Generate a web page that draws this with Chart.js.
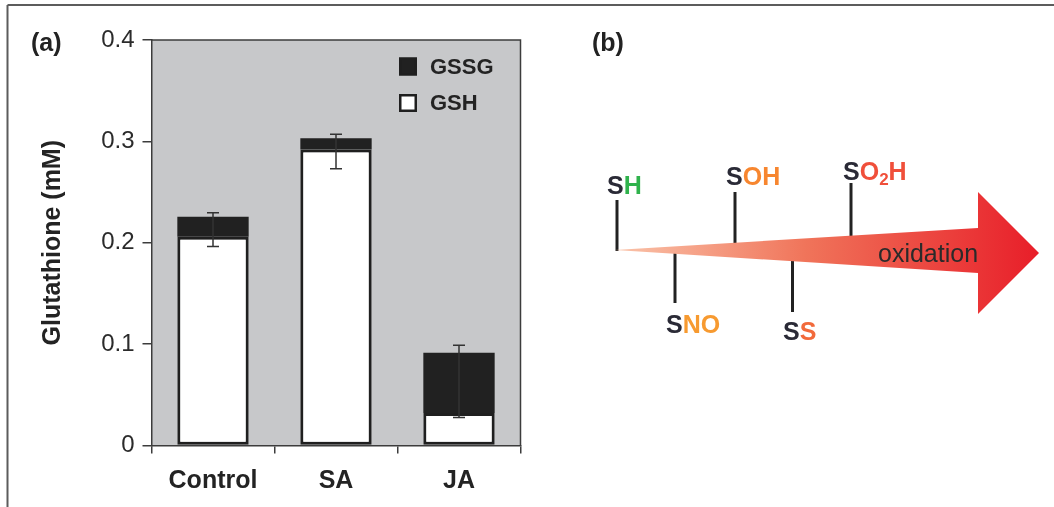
<!DOCTYPE html>
<html>
<head>
<meta charset="utf-8">
<script src="https://cdn.jsdelivr.net/npm/chart.js@4.4.1/dist/chart.umd.min.js"></script>
<style>
  html, body { margin: 0; padding: 0; background: #fff; overflow: hidden; }
  #wrap { position: relative; width: 1054px; height: 507px; }
  #chart { position: absolute; left: 0; top: 0; }
  #overlay { position: absolute; left: 0; top: 0; pointer-events: none; }
  #overlay text { font-family: "Liberation Sans", Arial, Helvetica, sans-serif; }
</style>
</head>
<body>
<div id="wrap">
  <canvas id="chart" width="540" height="507"></canvas>
  <svg id="overlay" width="1054" height="507" xmlns="http://www.w3.org/2000/svg">
    <defs>
      <linearGradient id="oxGrad" gradientUnits="userSpaceOnUse" x1="615" y1="0" x2="1039" y2="0">
        <stop offset="0" stop-color="#fac4aa"/>
        <stop offset="0.45" stop-color="#f0745a"/>
        <stop offset="1" stop-color="#e81e29"/>
      </linearGradient>
    </defs>
    <!-- frame -->
    <line x1="7.5" y1="5" x2="1054" y2="5" stroke="#5c5c5c" stroke-width="2"/>
    <line x1="7.5" y1="5" x2="7.5" y2="507" stroke="#5c5c5c" stroke-width="2"/>

    <text x="31" y="51" font-size="25" font-weight="bold" fill="#222">(a)</text>
    <text x="592" y="51" font-size="25" font-weight="bold" fill="#222">(b)</text>

    <!-- panel (b): stems -->
    <g stroke="#222" stroke-width="3">
      <line x1="617" y1="200" x2="617" y2="251"/>
      <line x1="735" y1="192" x2="735" y2="244"/>
      <line x1="851" y1="183" x2="851" y2="237"/>
      <line x1="675" y1="252" x2="675" y2="303"/>
      <line x1="792.5" y1="260" x2="792.5" y2="312"/>
    </g>
    <polygon points="615,250 978,228 978,192 1039,253 978,314 978,273" fill="url(#oxGrad)"/>

    <g font-size="25" font-weight="bold">
      <text x="607" y="194"><tspan fill="#2a2a36">S</tspan><tspan fill="#2fb24c">H</tspan></text>
      <text x="726" y="185"><tspan fill="#2a2a36">S</tspan><tspan fill="#f7862f">OH</tspan></text>
      <text x="843" y="180"><tspan fill="#2a2a36">S</tspan><tspan fill="#f04f3a">O</tspan><tspan fill="#f04f3a" font-size="17" dy="5">2</tspan><tspan fill="#f04f3a" dy="-5">H</tspan></text>
      <text x="666" y="333"><tspan fill="#2a2a36">S</tspan><tspan fill="#f79a30">NO</tspan></text>
      <text x="783" y="340"><tspan fill="#2a2a36">S</tspan><tspan fill="#f26a3b">S</tspan></text>
    </g>
    <text x="878" y="262" font-size="25" fill="#2a2a2a">oxidation</text>
  </svg>
</div>
<script>
const categories  = ['Control', 'SA', 'JA'];
const gshValues   = [0.206, 0.292, 0.032];
const gssgValues  = [0.0196, 0.011, 0.0595];
const errUpper    = [0.004, 0.004, 0.0075];   // above total (GSSG + GSH)
const errLower    = [0.0096, 0.019, 0.0045];  // below GSH top
const yTickLabels = ['0', '0.1', '0.2', '0.3', '0.4'];

const FONT  = '"Liberation Sans", Arial, Helvetica, sans-serif';
const INK   = '#232323';
const AXIS  = '#3c3c3c';

// ── plugins ─────────────────────────────────────────────────────────────────

const plotBg = {
  id: 'plotBg',
  beforeDraw(chart) {
    const { ctx, chartArea: a } = chart;
    ctx.save();
    ctx.fillStyle = '#c7c8ca';
    ctx.fillRect(a.left, a.top, a.right - a.left, a.bottom - a.top);
    ctx.restore();
  },
  afterDraw(chart) {
    const { ctx, chartArea: a } = chart;
    ctx.save();
    ctx.strokeStyle = AXIS;
    ctx.lineWidth = 1.5;
    ctx.beginPath();
    ctx.moveTo(a.left, a.top);
    ctx.lineTo(a.right, a.top);
    ctx.lineTo(a.right, a.bottom);
    ctx.stroke();
    ctx.restore();
  }
};

const errorBars = {
  id: 'errorBars',
  afterDatasetsDraw(chart) {
    const { ctx, scales: { y } } = chart;
    const meta = chart.getDatasetMeta(1);
    ctx.save();
    ctx.strokeStyle = '#333';
    ctx.lineWidth = 1.5;
    meta.data.forEach((bar, i) => {
      const total = gshValues[i] + gssgValues[i];
      const yTop  = y.getPixelForValue(total + errUpper[i]);
      const yBot  = y.getPixelForValue(gshValues[i] - errLower[i]);
      const x     = bar.x;
      ctx.beginPath();
      ctx.moveTo(x, yTop);      ctx.lineTo(x, yBot);
      ctx.moveTo(x - 6, yTop);  ctx.lineTo(x + 6, yTop);
      ctx.moveTo(x - 6, yBot);  ctx.lineTo(x + 6, yBot);
      ctx.stroke();
    });
    ctx.restore();
  }
};

const insideLegend = {
  id: 'insideLegend',
  afterDraw(chart) {
    const { ctx } = chart;
    const items = chart.data.datasets.slice().reverse();
    ctx.save();
    ctx.font = `bold 22px ${FONT}`;
    ctx.textBaseline = 'middle';
    items.forEach((ds, i) => {
      const top = 57.5 + i * 36.5;
      ctx.fillStyle = ds.backgroundColor;
      ctx.fillRect(399, top, 18, 18);
      ctx.strokeStyle = '#1f1f1f';
      ctx.lineWidth = 2.5;
      ctx.strokeRect(400.25, top + 1.25, 15.5, 15.5);
      ctx.fillStyle = INK;
      ctx.fillText(ds.label, 430, top + 10);
    });
    ctx.restore();
  }
};

// ── chart ───────────────────────────────────────────────────────────────────

new Chart(document.getElementById('chart').getContext('2d'), {
  type: 'bar',
  data: {
    labels: categories,
    datasets: [
      { label: 'GSH',  data: gshValues,  backgroundColor: '#ffffff', borderColor: '#1f1f1f', borderWidth: 3, borderSkipped: false },
      { label: 'GSSG', data: gssgValues, backgroundColor: '#212121', borderWidth: 0 },
    ],
  },
  options: {
    responsive: false,
    animation: false,
    categoryPercentage: 0.58,
    barPercentage: 1.0,
    layout: { padding: { top: 40, right: 19.5, left: 0, bottom: 0 } },
    plugins: { legend: { display: false }, tooltip: { enabled: false } },
    scales: {
      x: {
        stacked: true,
        grid:   { display: true, drawOnChartArea: false, drawTicks: true, tickLength: 8, color: AXIS, lineWidth: 1.5, offset: true },
        border: { display: true, color: AXIS, width: 1.5 },
        ticks:  { font: { family: FONT, size: 25, weight: 'bold' }, color: INK, padding: 13 },
        afterFit: s => { s.height = 61.5; },
      },
      y: {
        stacked: true,
        min: 0,
        max: 0.4,
        grid:   { display: true, drawOnChartArea: false, drawTicks: true, tickLength: 9, color: AXIS, lineWidth: 1.5 },
        border: { display: true, color: AXIS, width: 1.5 },
        ticks:  { stepSize: 0.1, callback: (v, i) => yTickLabels[i], font: { family: FONT, size: 24 }, color: '#2b2b2b', padding: 8 },
        title:  { display: true, text: 'Glutathione (mM)', font: { family: FONT, size: 25, weight: 'bold' }, color: INK, padding: { top: 38, bottom: 0 } },
        afterFit: s => { s.width = 151.5; },
      },
    },
  },
  plugins: [plotBg, errorBars, insideLegend],
});
</script>
</body>
</html>
